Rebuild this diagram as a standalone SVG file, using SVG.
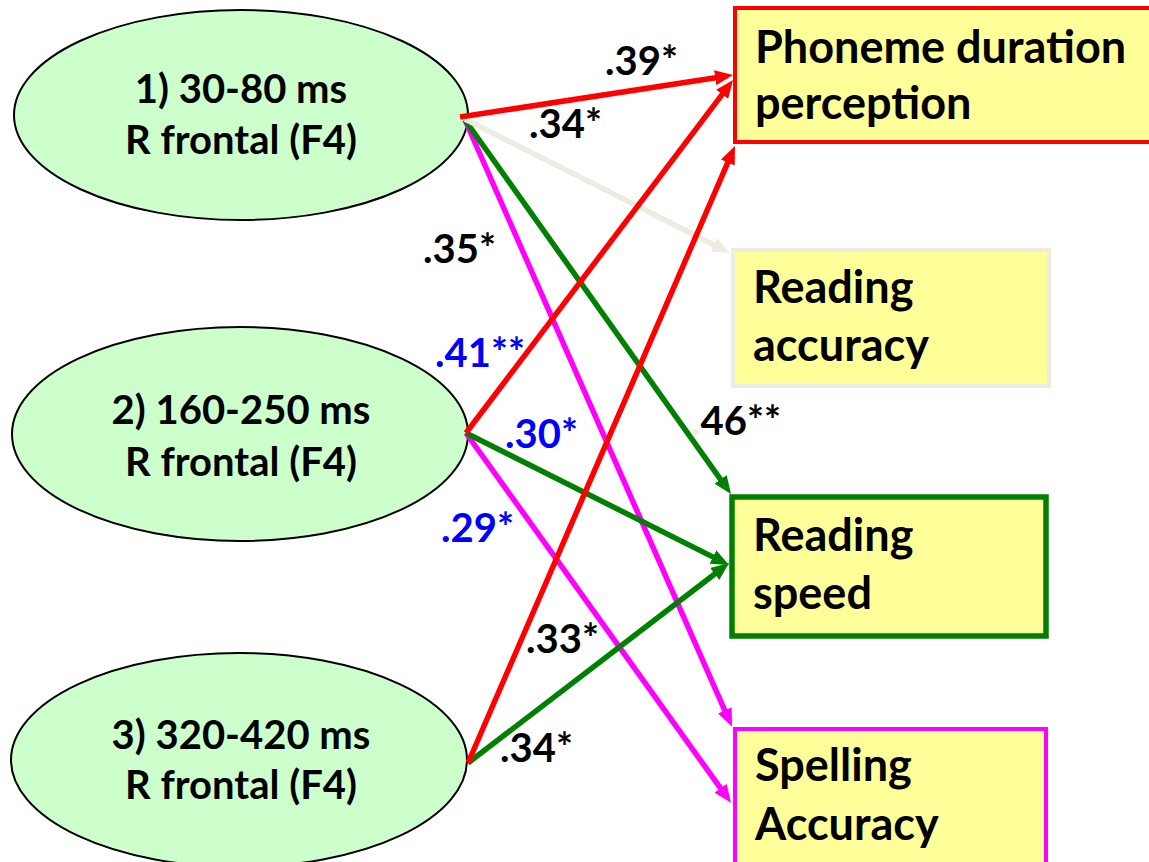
<svg xmlns="http://www.w3.org/2000/svg" width="1149" height="862" viewBox="0 0 1149 862">
  <style>
    text { font-family: "Lato", "Liberation Sans", sans-serif; font-weight: bold; fill: #000; }
    .etxt { font-size: 40px; text-anchor: middle; }
    .btxt { font-size: 45px; }
    .lbl { font-size: 40px; }
    .blue { fill: #0000ff; }
    .ell { fill: #ccffcc; stroke: #000; stroke-width: 2; }
    .box { fill: #ffff99; }
    .c { fill: none; stroke-width: 5.5; }
  </style>
  <defs>
    <marker id="ah-red" viewBox="0 0 18 15" refX="7" refY="7.5" markerWidth="18" markerHeight="15" markerUnits="userSpaceOnUse" orient="auto">
      <path d="M0,0 L18,7.5 L0,15 z" fill="#ff0000"/>
    </marker>
    <marker id="ah-green" viewBox="0 0 18 15" refX="7" refY="7.5" markerWidth="18" markerHeight="15" markerUnits="userSpaceOnUse" orient="auto">
      <path d="M0,0 L18,7.5 L0,15 z" fill="#008000"/>
    </marker>
    <marker id="ah-mag" viewBox="0 0 18 15" refX="7" refY="7.5" markerWidth="18" markerHeight="15" markerUnits="userSpaceOnUse" orient="auto">
      <path d="M0,0 L18,7.5 L0,15 z" fill="#ff00ff"/>
    </marker>
    <marker id="ah-beige" viewBox="0 0 18 15" refX="7" refY="7.5" markerWidth="18" markerHeight="15" markerUnits="userSpaceOnUse" orient="auto">
      <path d="M0,0 L18,7.5 L0,15 z" fill="#eeece1"/>
    </marker>
  </defs>

  <rect width="1149" height="862" fill="#ffffff"/>

  <!-- time-window nodes -->
  <g id="node-win1">
    <ellipse class="ell" cx="241" cy="115" rx="227" ry="105"/>
    <text class="etxt" x="241" y="103">1) 30-80 ms</text>
    <text class="etxt" x="241" y="154">R frontal (F4)</text>
  </g>
  <g id="node-win2">
    <ellipse class="ell" cx="240" cy="434" rx="228" ry="107"/>
    <text class="etxt" x="241" y="424">2) 160-250 ms</text>
    <text class="etxt" x="241" y="476">R frontal (F4)</text>
  </g>
  <g id="node-win3">
    <ellipse class="ell" cx="239" cy="760" rx="228" ry="107"/>
    <text class="etxt" x="241" y="749">3) 320-420 ms</text>
    <text class="etxt" x="241" y="799">R frontal (F4)</text>
  </g>

  <!-- outcome nodes -->
  <g id="node-phoneme">
    <rect class="box" x="735" y="8" width="430" height="134" stroke="#ff0000" stroke-width="4"/>
    <text class="btxt" x="755" y="63">Phoneme duration</text>
    <text class="btxt" x="755" y="119">perception</text>
  </g>
  <g id="node-reading-acc">
    <rect class="box" x="733" y="250" width="316" height="136" stroke="#eeece1" stroke-width="4"/>
    <text class="btxt" x="753" y="303">Reading</text>
    <text class="btxt" x="753" y="361">accuracy</text>
  </g>
  <g id="node-reading-speed">
    <rect class="box" x="732" y="497" width="314" height="139" stroke="#008000" stroke-width="5.5"/>
    <text class="btxt" x="753" y="551">Reading</text>
    <text class="btxt" x="753" y="609">speed</text>
  </g>
  <g id="node-spelling">
    <rect class="box" x="735" y="729" width="311" height="160" stroke="#ff00ff" stroke-width="4"/>
    <text class="btxt" x="755" y="781">Spelling</text>
    <text class="btxt" x="755" y="840">Accuracy</text>
  </g>

  <!-- connectors -->
  <g id="connectors">
    <line class="c" x1="465" y1="120" x2="727.6" y2="716.8" stroke="#ff00ff" marker-end="url(#ah-mag)"/>
    <line class="c" x1="465" y1="120" x2="724.6" y2="485.1" stroke="#008000" marker-end="url(#ah-green)"/>
    <line class="c" x1="465" y1="119" x2="720.2" y2="248.0" stroke="#eeece1" marker-end="url(#ah-beige)"/>
    <line class="c" x1="460" y1="117" x2="722.1" y2="76.7" stroke="#ff0000" marker-end="url(#ah-red)"/>

    <line class="c" x1="466" y1="433" x2="724.6" y2="793.9" stroke="#ff00ff" marker-end="url(#ah-mag)"/>
    <line class="c" x1="466" y1="433" x2="719.2" y2="560.1" stroke="#008000" marker-end="url(#ah-green)"/>
    <line class="c" x1="466" y1="433" x2="726.4" y2="88.8" stroke="#ff0000" marker-end="url(#ah-red)"/>

    <line class="c" x1="468" y1="763" x2="720.3" y2="569.7" stroke="#008000" marker-end="url(#ah-green)"/>
    <line class="c" x1="468" y1="763" x2="730.6" y2="156.1" stroke="#ff0000" marker-end="url(#ah-red)"/>
  </g>

  <!-- path coefficients -->
  <g id="coefficients">
    <text class="lbl" x="605" y="75">.39*</text>
    <text class="lbl" x="529" y="138">.34*</text>
    <text class="lbl" x="423" y="263">.35*</text>
    <text class="lbl blue" x="435" y="367">.41**</text>
    <text class="lbl blue" x="505" y="448">.30*</text>
    <text class="lbl blue" x="441" y="542">.29*</text>
    <text class="lbl" x="691" y="435"><tspan fill="#eeece1">.</tspan>46**</text>
    <text class="lbl" x="526" y="653">.33*</text>
    <text class="lbl" x="500" y="762">.34*</text>
  </g>
</svg>
